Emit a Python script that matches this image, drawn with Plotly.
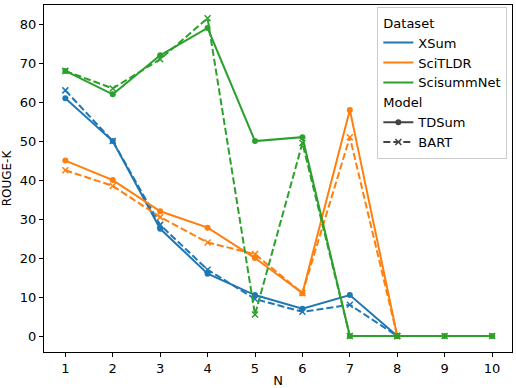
import plotly.graph_objects as go

N = [1, 2, 3, 4, 5, 6, 7, 8, 9, 10]

xsum_tdsum = [61, 50, 27.5, 16, 10.5, 7, 10.5, 0]
xsum_bart = [63, 50, 28.5, 17, 9.5, 6.2, 8, 0]
scitldr_tdsum = [45, 40, 32, 27.8, 20, 11, 58, 0]
scitldr_bart = [42.5, 38.5, 30.5, 24, 21, 11, 51, 0]
scisumm_tdsum = [68, 62, 72, 79, 50, 51, 0, 0, 0, 0]
scisumm_bart = [68, 63.5, 71, 81.5, 5.5, 49.5, 0, 0, 0, 0]

BLUE = "#1f77b4"
ORANGE = "#ff7f0e"
GREEN = "#2ca02c"
DARK = "#444444"
FONT = "DejaVu Sans, sans-serif"

series = [
    (xsum_tdsum, BLUE, "solid", "circle"),
    (xsum_bart, BLUE, "dash", "x-thin-open"),
    (scitldr_tdsum, ORANGE, "solid", "circle"),
    (scitldr_bart, ORANGE, "dash", "x-thin-open"),
    (scisumm_tdsum, GREEN, "solid", "circle"),
    (scisumm_bart, GREEN, "dash", "x-thin-open"),
]

fig = go.Figure()
for vals, color, dash, sym in series:
    is_x = sym.startswith("x")
    fig.add_trace(go.Scatter(
        x=N[:len(vals)], y=vals, mode="lines+markers", showlegend=False,
        line=dict(color=color, width=2, dash="7px,3px" if dash == "dash" else "solid"),
        marker=dict(symbol=sym, size=6, color=color,
                    line=dict(color=color, width=1.5) if is_x else dict(width=0)),
    ))

# legend entries
for name, color in [("XSum", BLUE), ("SciTLDR", ORANGE), ("ScisummNet", GREEN)]:
    fig.add_trace(go.Scatter(
        x=[None], y=[None], mode="lines", name=name,
        line=dict(color=color, width=2),
        legendgroup="dataset", legendgrouptitle_text="Dataset",
    ))
fig.add_trace(go.Scatter(
    x=[None], y=[None], mode="lines+markers", name="TDSum",
    line=dict(color=DARK, width=2), marker=dict(symbol="circle", size=6, color=DARK),
    legendgroup="model", legendgrouptitle_text="Model",
))
fig.add_trace(go.Scatter(
    x=[None], y=[None], mode="lines+markers", name="BART",
    line=dict(color=DARK, width=2, dash="7px,3px"),
    marker=dict(symbol="x-thin-open", size=6, color=DARK, line=dict(color=DARK, width=1.5)),
    legendgroup="model", legendgrouptitle_text="Model",
))

axis_common = dict(
    showline=True, linecolor="black", linewidth=1, mirror=True,
    ticks="outside", ticklen=4, tickcolor="black", showgrid=False, zeroline=False,
    tickfont=dict(size=13, color="black"), automargin=False,
)

fig.update_layout(
    width=516, height=388,
    paper_bgcolor="white", plot_bgcolor="white",
    font=dict(family=FONT, size=13, color="black"),
    margin=dict(l=44, r=4, t=5, b=36),
    xaxis=dict(range=[0.55, 10.42], tickvals=N, title=dict(text="N", standoff=4,
               font=dict(size=13)), **axis_common),
    yaxis=dict(range=[-4.1, 84.9], tickvals=[0, 10, 20, 30, 40, 50, 60, 70, 80],
               title=dict(text="ROUGE-K", standoff=6, font=dict(size=12)), **axis_common),
    legend=dict(x=0.99, y=0.995, xanchor="right", yanchor="top",
                bgcolor="rgba(255,255,255,0.8)", bordercolor="#cccccc", borderwidth=1,
                font=dict(size=13), tracegroupgap=0, itemwidth=30,
                grouptitlefont=dict(size=13)),
)

# drop the default 8px page margin so the figure sits at the window's corner
fig.write_html("out.html", config={"displayModeBar": False},
               post_script="document.body.style.margin='0';")
